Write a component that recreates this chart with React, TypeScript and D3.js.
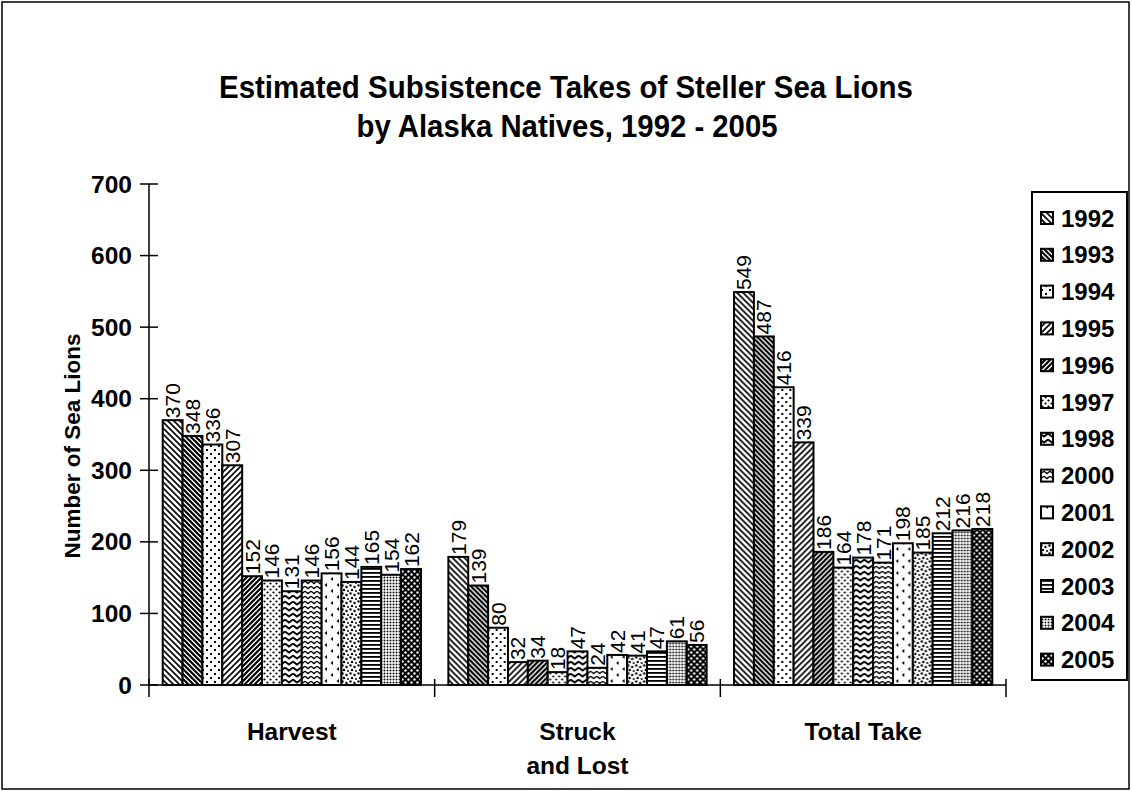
import React from "react";
import * as d3 from "d3";

// Chart data
const categories = ["Harvest", "Struck and Lost", "Total Take"];
const categoryLines = [["Harvest"], ["Struck", "and Lost"], ["Total Take"]];
const years = ["1992", "1993", "1994", "1995", "1996", "1997", "1998", "2000", "2001", "2002", "2003", "2004", "2005"];
const harvest = [370, 348, 336, 307, 152, 146, 131, 146, 156, 144, 165, 154, 162];
const struckAndLost = [179, 139, 80, 32, 34, 18, 47, 24, 42, 41, 47, 61, 56];
const totalTake = [549, 487, 416, 339, 186, 164, 178, 171, 198, 185, 212, 216, 218];
const yTicks = [0, 100, 200, 300, 400, 500, 600, 700];

const seriesByCategory = [harvest, struckAndLost, totalTake];

const W = 1132;
const H = 794;
const FONT = "'Liberation Sans', Arial, Helvetica, sans-serif";

// Black-and-white fill patterns, one per year
function Patterns() {
  const s = "black";
  return (
    <defs>
      <pattern id="p1992" patternUnits="userSpaceOnUse" width="6" height="6">
        <rect width="6" height="6" fill="white" />
        <path d="M-3,3 L3,9 M0,0 L6,6 M3,-3 L9,3" stroke={s} strokeWidth="1.6" />
      </pattern>
      <pattern id="p1993" patternUnits="userSpaceOnUse" width="5" height="5">
        <rect width="5" height="5" fill="white" />
        <path d="M-2.5,2.5 L2.5,7.5 M0,0 L5,5 M2.5,-2.5 L7.5,2.5" stroke={s} strokeWidth="2.2" />
      </pattern>
      <pattern id="p1994" patternUnits="userSpaceOnUse" width="8" height="8">
        <rect width="8" height="8" fill="white" />
        <rect x="1" y="1" width="2" height="2" fill={s} />
        <rect x="5" y="5" width="2" height="2" fill={s} />
      </pattern>
      <pattern id="p1995" patternUnits="userSpaceOnUse" width="6" height="6">
        <rect width="6" height="6" fill="white" />
        <path d="M-3,3 L3,-3 M0,6 L6,0 M3,9 L9,3" stroke={s} strokeWidth="1.6" />
      </pattern>
      <pattern id="p1996" patternUnits="userSpaceOnUse" width="5" height="5">
        <rect width="5" height="5" fill="white" />
        <path d="M-2.5,2.5 L2.5,-2.5 M0,5 L5,0 M2.5,7.5 L7.5,2.5" stroke={s} strokeWidth="2.2" />
      </pattern>
      <pattern id="p1997" patternUnits="userSpaceOnUse" width="6" height="6">
        <rect width="6" height="6" fill="white" />
        <circle cx="1.5" cy="1.5" r="1.1" fill={s} />
        <circle cx="4.5" cy="4.5" r="1.1" fill={s} />
      </pattern>
      <pattern id="p1998" patternUnits="userSpaceOnUse" width="8" height="6">
        <rect width="8" height="6" fill="white" />
        <path d="M0,1.5 L4,4.5 L8,1.5" fill="none" stroke={s} strokeWidth="1.8" />
      </pattern>
      <pattern id="p2000" patternUnits="userSpaceOnUse" width="6" height="5">
        <rect width="6" height="5" fill="white" />
        <path d="M0,1.2 L3,3.6 L6,1.2" fill="none" stroke={s} strokeWidth="1.4" />
      </pattern>
      <pattern id="p2001" patternUnits="userSpaceOnUse" width="12" height="12">
        <rect width="12" height="12" fill="white" />
        <path d="M4,1 L1.5,3 L4,5 Z" fill={s} />
        <path d="M10,7 L7.5,9 L10,11 Z" fill={s} />
      </pattern>
      <pattern id="p2002" patternUnits="userSpaceOnUse" width="8" height="8">
        <rect width="8" height="8" fill="white" />
        <circle cx="1.5" cy="1.5" r="1.2" fill={s} />
        <circle cx="5.5" cy="3" r="1.2" fill={s} />
        <circle cx="3" cy="6" r="1.2" fill={s} />
        <circle cx="7" cy="7" r="1" fill={s} />
      </pattern>
      <pattern id="p2003" patternUnits="userSpaceOnUse" width="4" height="4">
        <rect width="4" height="4" fill="white" />
        <rect y="0" width="4" height="1.8" fill={s} />
      </pattern>
      <pattern id="p2004" patternUnits="userSpaceOnUse" width="3" height="3">
        <rect width="3" height="3" fill="white" />
        <circle cx="1.5" cy="1.5" r="0.95" fill={s} />
      </pattern>
      <pattern id="p2005" patternUnits="userSpaceOnUse" width="6" height="6">
        <rect width="6" height="6" fill={s} />
        <circle cx="1.5" cy="1.5" r="1.2" fill="white" />
        <circle cx="4.5" cy="4.5" r="1.2" fill="white" />
      </pattern>
    </defs>
  );
}

export default function App() {
  const x0 = d3.scaleBand<string>().domain(categories).range([149, 1006]).paddingInner(0).paddingOuter(0);
  const x1 = d3
    .scaleBand<string>()
    .domain(years)
    .range([0, x0.bandwidth()])
    .paddingInner(0)
    .paddingOuter(0.69);
  const y = d3.scaleLinear().domain([0, 700]).range([685, 184]);
  const axisY = y(0);

  const boundaries = [149, ...categories.map((c) => (x0(c) as number) + x0.bandwidth())];

  return (
    <svg
      width={W}
      height={H}
      viewBox={`0 0 ${W} ${H}`}
      style={{ position: "absolute", left: 0, top: 0, background: "white" }}
    >
      <Patterns />
      <rect x={0} y={0} width={W} height={H} fill="white" />
      <rect x={2} y={2} width={1127} height={787} fill="none" stroke="black" strokeWidth={1.5} />

      {/* Title */}
      <text
        x={566}
        y={98}
        textAnchor="middle"
        fontFamily={FONT}
        fontWeight="bold"
        fontSize={31}
        textLength={694}
        lengthAdjust="spacingAndGlyphs"
      >
        Estimated Subsistence Takes of Steller Sea Lions
      </text>
      <text
        x={567}
        y={137}
        textAnchor="middle"
        fontFamily={FONT}
        fontWeight="bold"
        fontSize={31}
        textLength={421}
        lengthAdjust="spacingAndGlyphs"
      >
        by Alaska Natives, 1992 - 2005
      </text>

      {/* Bars */}
      {categories.map((c, ci) => (
        <g key={c} transform={`translate(${x0(c)},0)`}>
          {seriesByCategory[ci].map((v, i) => {
            const bx = x1(years[i]) as number;
            const bw = x1.bandwidth();
            return (
              <g key={years[i]}>
                <rect
                  x={bx}
                  y={y(v)}
                  width={bw}
                  height={axisY - y(v)}
                  fill={`url(#p${years[i]})`}
                  stroke="black"
                  strokeWidth={2}
                />
                <text
                  transform={`translate(${bx + bw / 2},${y(v) - 2}) rotate(-90)`}
                  dominantBaseline="central"
                  textAnchor="start"
                  fontFamily={FONT}
                  fontSize={21}
                >
                  {v}
                </text>
              </g>
            );
          })}
        </g>
      ))}

      {/* Y axis */}
      <line x1={149} x2={149} y1={y(700)} y2={axisY} stroke="black" strokeWidth={1.5} />
      {yTicks.map((t) => (
        <g key={t}>
          <line x1={140} x2={158} y1={y(t)} y2={y(t)} stroke="black" strokeWidth={1.5} />
          <text
            x={132}
            y={y(t)}
            textAnchor="end"
            dominantBaseline="central"
            fontFamily={FONT}
            fontWeight="bold"
            fontSize={24.5}
          >
            {t}
          </text>
        </g>
      ))}
      <text
        transform={`translate(72,446) rotate(-90)`}
        textAnchor="middle"
        dominantBaseline="central"
        fontFamily={FONT}
        fontWeight="bold"
        fontSize={22.5}
      >
        Number of Sea Lions
      </text>

      {/* X axis */}
      <line x1={149} x2={1006} y1={axisY} y2={axisY} stroke="black" strokeWidth={1.5} />
      {boundaries.map((b, i) => (
        <line key={i} x1={b} x2={b} y1={axisY - 6} y2={axisY + 12} stroke="black" strokeWidth={1.5} />
      ))}
      {categories.map((c, ci) => (
        <text
          key={c}
          x={(x0(c) as number) + x0.bandwidth() / 2}
          y={740}
          textAnchor="middle"
          fontFamily={FONT}
          fontWeight="bold"
          fontSize={24.5}
        >
          {categoryLines[ci].map((ln, li) => (
            <tspan key={li} x={(x0(c) as number) + x0.bandwidth() / 2} dy={li === 0 ? 0 : 34}>
              {ln}
            </tspan>
          ))}
        </text>
      ))}

      {/* Legend */}
      <rect x={1032} y={192} width={95} height={488} fill="white" stroke="black" strokeWidth={2} />
      {years.map((yr, i) => {
        const cy = 218 + i * 36.8;
        return (
          <g key={yr}>
            <rect x={1041} y={cy - 6} width={12} height={12} fill={`url(#p${yr})`} stroke="black" strokeWidth={2} />
            <text
              x={1061}
              y={cy}
              dominantBaseline="central"
              fontFamily={FONT}
              fontWeight="bold"
              fontSize={24}
            >
              {yr}
            </text>
          </g>
        );
      })}
    </svg>
  );
}
